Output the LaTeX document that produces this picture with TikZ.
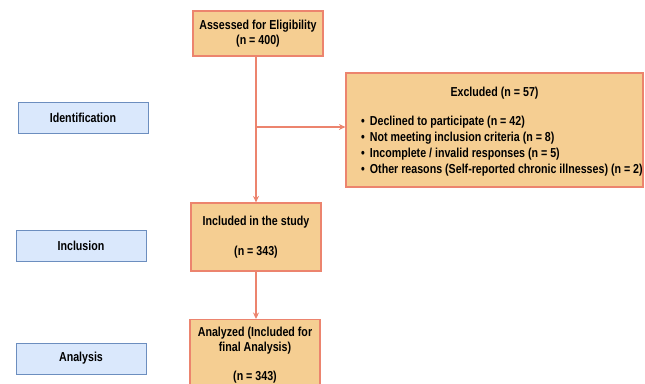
\documentclass[tikz,border=0pt]{standalone}
\usepackage{fontspec}
\setmainfont{Liberation Sans}[FakeStretch=0.82]
\usetikzlibrary{arrows.meta}
\definecolor{ofill}{RGB}{245,206,146}
\definecolor{oline}{RGB}{236,132,110}
\definecolor{bfill}{RGB}{218,232,252}
\definecolor{bline}{RGB}{108,142,191}
\tikzset{
  txt/.style={font=\bfseries\fontsize{13}{15.5}\selectfont},
  obox/.style={draw=oline, fill=ofill, line width=1.2pt, inner sep=0pt, txt, align=center},
  bbox/.style={draw=bline, fill=bfill, line width=1pt, inner sep=0pt, minimum width=130pt, minimum height=31pt, txt},
  conn/.style={draw=oline, line width=1.2pt, -{Stealth[length=6.5pt,width=6pt]}},
}
\begin{document}
\begin{tikzpicture}[x=1pt,y=-1pt]
\useasboundingbox (0,0) rectangle (645,383);
% blue stage labels
\node[bbox] (ident) at (83,117.5) {Identification};
\node[bbox] (incl) at (81,245.5) {Inclusion};
\node[bbox] (anal) at (81,358.5) {Analysis};
% orange boxes
\node[obox, minimum width=130pt, minimum height=45pt] (assess) at (258,33.5) {Assessed for Eligibility\\(n = 400)};
\node[obox, minimum width=297pt, minimum height=114pt] (excl) at (494.5,130) {};
\node[txt] (exclt) at (494.5,93) {Excluded (n = 57)};
\node[anchor=west, align=left, inner sep=0pt, font=\bfseries\fontsize{13}{16}\selectfont] (exlist) at (361,146) {%
\textbullet\hspace{5pt}Declined to participate (n = 42)\\
\textbullet\hspace{5pt}Not meeting inclusion criteria (n = 8)\\
\textbullet\hspace{5pt}Incomplete / invalid responses (n = 5)\\
\textbullet\hspace{5pt}Other reasons (Self-reported chronic illnesses) (n = 2)};
\node[obox, minimum width=130pt, minimum height=68pt] (included) at (256,237) {Included in the study\\[14pt](n = 343)};
\node[obox, minimum width=130pt, minimum height=70pt, anchor=north] (analyzed) at (255,319) {};
\node[txt, align=center] (anatxt) at (255,340.5) {Analyzed (Included for\\final Analysis)};
\node[txt] (anan) at (255,377) {(n = 343)};
% connectors
\coordinate (br) at (256,127);
\draw[conn] (assess.south -| br) -- (included.north -| br);
\draw[conn] (br) -- (br -| excl.west);
\draw[conn] (included.south -| br) -- (analyzed.north -| br);
\end{tikzpicture}
\end{document}
